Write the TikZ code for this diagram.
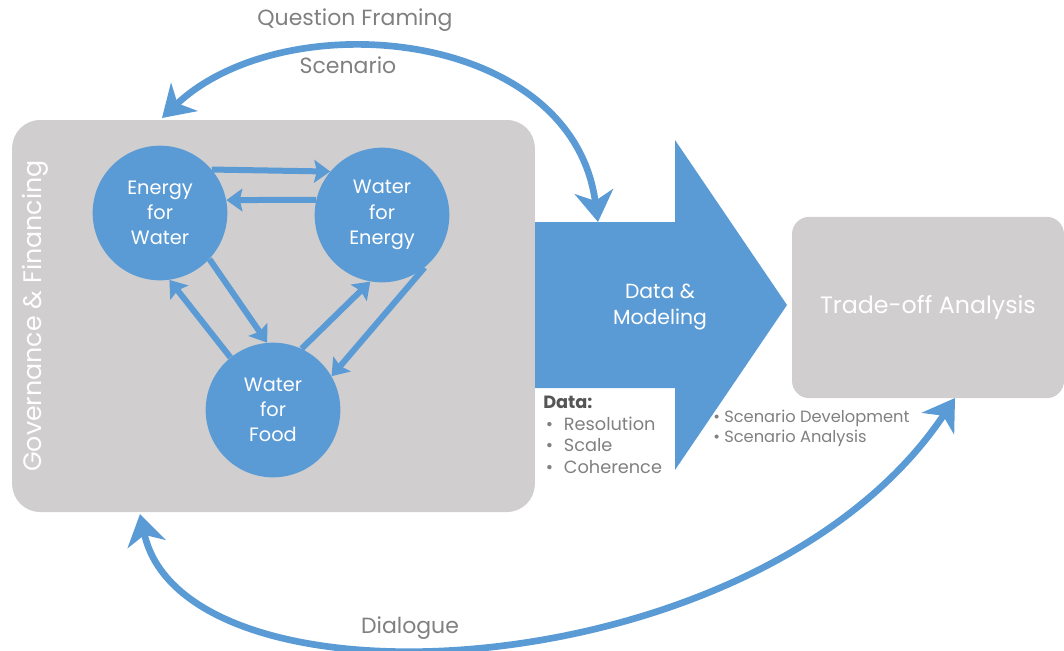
\documentclass[tikz,border=0pt]{standalone}
\usepackage{fontspec}
\setmainfont{Poppins}
\usetikzlibrary{arrows.meta,positioning}
\definecolor{nexusblue}{RGB}{91,155,213}
\definecolor{boxgray}{RGB}{208,206,206}
\definecolor{labelgray}{RGB}{128,128,128}
\definecolor{headgray}{RGB}{85,85,85}

\begin{document}
\begin{tikzpicture}[x=0.75pt, y=-0.75pt]

% Fix the canvas to the size of the page
\useasboundingbox (0,0) rectangle (1064,650);

% Define styles for panels, sectors and arrows
\tikzstyle{panel} = [fill=boxgray, rounded corners=21pt, inner sep=0pt]
\tikzstyle{sector} = [circle, fill=nexusblue, minimum size=101pt, inner sep=0pt, text=white, align=center, font=\fontsize{14.5}{19}\selectfont]
\tikzstyle{link} = [nexusblue, line width=4.5pt, -{Stealth[length=12pt, width=17pt, inset=2pt]}]
\tikzstyle{loop} = [nexusblue, line width=5pt, {Stealth[length=23pt, width=29pt, inset=7pt]}-{Stealth[length=23pt, width=29pt, inset=7pt]}]
\tikzstyle{caption} = [text=labelgray, font=\fontsize{16.5}{18}\selectfont]
\tikzstyle{bullets} = [text=labelgray, align=left, anchor=north west, inner sep=0pt]

% Panels
\node[panel, minimum width=392pt, minimum height=294pt] (gov) at (273.5,316) {};
\node[panel, rounded corners=13pt, minimum width=204pt, minimum height=136pt, text=white, font=\fontsize{17.8}{20}\selectfont] (trade) at (928,307.5) {Trade-off Analysis};
\node[rotate=90, text=white, font=\fontsize{19}{20}\selectfont] (govlabel) at (35,316) {Governance \& Financing};

% The three sectors
\node[sector] (ew) at (160,213) {Energy\\for\\Water};
\node[sector] (we) at (382,215) {Water\\for\\Energy};
\node[sector] (wf) at (273,410) {Water\\for\\Food};

% Links between the sectors
\draw[link] (ew.40) -- (we.140);
\draw[link] (we.167) -- (ew.11);
\draw[link] (ew.-43) -- (wf.95);
\draw[link] (wf.129) -- (ew.-82);
\draw[link] (wf.65) -- (we.-100);
\draw[link] (we.-51) -- (wf.30);

% Big arrow
\fill[nexusblue] (535,222) -- (675,222) -- (675,140) -- (787,305) -- (675,470) -- (675,388) -- (535,388) -- cycle;
\node[text=white, align=center, font=\fontsize{15.3}{19}\selectfont] (dm) at (660,307) {Data \&\\Modeling};

% Lists under the arrow
\node[bullets, font=\fontsize{13.3}{16.2}\selectfont] (datalist) at (543,396)
  {\textcolor{headgray}{\bfseries Data:}\\
   \hspace*{2pt}\textbullet\hspace{8pt}Resolution\\
   \hspace*{2pt}\textbullet\hspace{8pt}Scale\\
   \hspace*{2pt}\textbullet\hspace{8pt}Coherence};
\node[bullets, font=\fontsize{12.2}{15}\selectfont] (scenlist) at (713,410)
  {\textbullet\ Scenario Development\\
   \textbullet\ Scenario Analysis};

% Feedback loops
\coordinate (dmtop) at (598,222);
\coordinate (govtop) at (162,118);
\coordinate (govbot) at (140,514);
\coordinate (tradebot) at (955,398);

\draw[loop] (dmtop) .. controls (572,28) and (285,2) .. (govtop);
\draw[loop] (govbot) .. controls (185,720) and (760,690) .. (tradebot);

\node[caption] (framing) at (355,20) {Question Framing};
\node[caption] (scenario) at (348,65) {Scenario};
\node[caption] (dialogue) at (410,628) {Dialogue};

\end{tikzpicture}
\end{document}
